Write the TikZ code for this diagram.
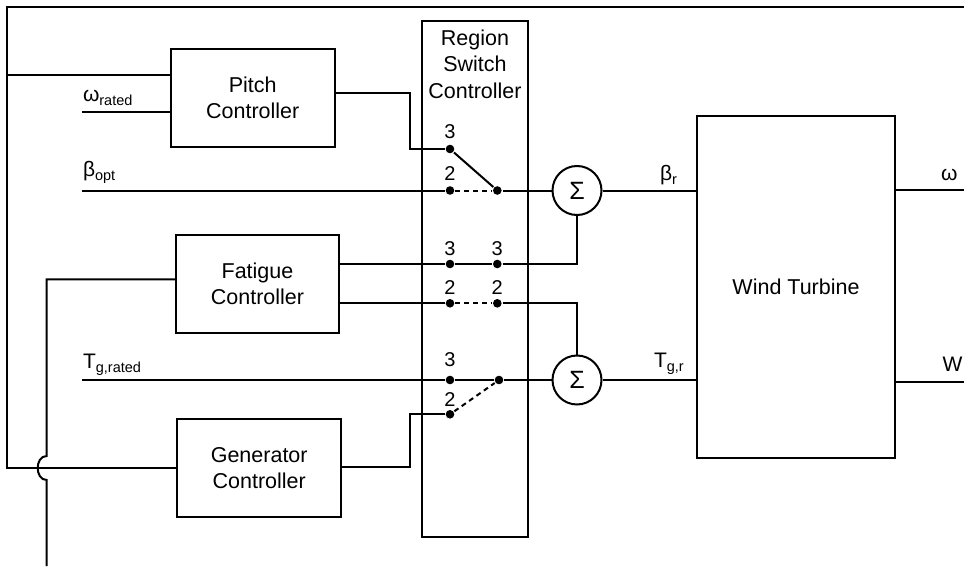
\documentclass[tikz,border=0pt]{standalone}
\usepackage{fontspec}
\setmainfont{Liberation Sans}
\newcommand{\lowsub}[1]{\raisebox{-4pt}{\fontsize{14.5}{15}\selectfont #1}}
\begin{document}
\begin{tikzpicture}[x=1pt,y=-1pt,line width=2pt,
  blk/.style={draw,line width=2pt,inner sep=0pt,outer sep=0pt,align=center,font=\fontsize{21.5}{26}\selectfont},
  dot/.style={circle,fill,inner sep=0pt,minimum size=8.6pt},
  sumc/.style={circle,draw,line width=2pt,inner sep=0pt,minimum size=49pt,font=\fontsize{25}{25}\selectfont},
  lbl/.style={anchor=base west,inner sep=0pt,font=\fontsize{21}{21}\selectfont},
  num/.style={anchor=base,inner sep=0pt,font=\fontsize{20}{20}\selectfont},
  wire/.style={draw,line width=2pt},
  dsh/.style={wire,dash pattern=on 5pt off 4pt}]
\useasboundingbox (0,0) rectangle (964,567);

% blocks
\node[blk,minimum width=164pt,minimum height=97.4pt] (pitch) at (252.7,98) {Pitch\\Controller};
\node[blk,minimum width=163.6pt,minimum height=97.7pt] (fat) at (257.5,283.8) {Fatigue\\Controller};
\node[blk,minimum width=164.3pt,minimum height=97.7pt] (gen) at (259.2,468.2) {Generator\\Controller};
\node[blk,minimum width=106.6pt,minimum height=515.4pt] (rsc) at (475,279) {};
\node[align=center,inner sep=0pt,font=\fontsize{21.5}{26.5}\selectfont] (rsct) at (475,64) {Region\\Switch\\Controller};
\node[blk,minimum width=197.4pt,minimum height=342.3pt] (wt) at (796,287.2) {Wind Turbine};

% summing junctions
\node[sumc] (sig1) at (577,190.5) {Σ};
\node[sumc] (sig2) at (577,380) {Σ};

% switch dots
\node[dot] (s13) at (450,149) {};
\node[dot] (s12) at (450,190.5) {};
\node[dot] (s1c) at (497.3,190.5) {};
\node[dot] (f3a) at (450,264) {};
\node[dot] (f3b) at (497.3,264) {};
\node[dot] (f2a) at (450,303.3) {};
\node[dot] (f2b) at (497.3,303.3) {};
\node[dot] (t3) at (450,380) {};
\node[dot] (tc) at (499,380) {};
\node[dot] (t2) at (450,414.3) {};

% switch numbers
\node[num] (n13) at (450,139) {3};
\node[num] (n12) at (450,180.5) {2};
\node[num] (nf3a) at (450,255) {3};
\node[num] (nf3b) at (497.3,255) {3};
\node[num] (nf2a) at (450,294) {2};
\node[num] (nf2b) at (497.3,294) {2};
\node[num] (nt3) at (450,366) {3};
\node[num] (nt2) at (450,406) {2};

% coordinates
\coordinate (ctr) at (964,7);
\coordinate (ctl) at (7,7);
\coordinate (cbl) at (7,467.7);
\coordinate (pin1) at (7,74.7);
\coordinate (wr) at (82,112);
\coordinate (pb) at (409.7,93.3);
\coordinate (bo) at (82,190.5);
\coordinate (tg) at (82,380);
\coordinate (gb) at (409.7,466.7);
\coordinate (fc) at (46.7,279.3);
\coordinate (fj1) at (46.7,456);
\coordinate (fj2) at (46.7,480);
\coordinate (fk1) at (34.7,456);
\coordinate (fk2) at (34.7,480);
\coordinate (fend) at (46.7,566);
\coordinate (om) at (964,190);
\coordinate (wo) at (964,382);

% feedback loop
\path[wire] (ctr) -- (ctl) -- (cbl) -- (cbl -| gen.west);
\path[wire] (pin1) -- (pin1 -| pitch.west);
\path[wire] (wr) -- (wr -| pitch.west);
\path[wire] (fc -| fat.west) -- (fc) -- (fj1) .. controls (fk1) and (fk2) .. (fj2) -- (fend);

% pitch path
\path[wire] (pb -| pitch.east) -- (pb) |- (s13);
\path[wire] (bo) -- (s12);
\path[wire] (s13) -- (s1c);
\path[dsh] (s12) -- (s1c);
\path[wire] (s1c) -- (sig1.west);

% fatigue paths
\path[wire] (f3a -| fat.east) -- (f3a);
\path[wire] (f3a) -- (f3b);
\path[wire] (f3b) -| (sig1.south);
\path[wire] (f2a -| fat.east) -- (f2a);
\path[dsh] (f2a) -- (f2b);
\path[wire] (f2b) -| (sig2.north);

% torque path
\path[wire] (tg) -- (t3) -- (tc) -- (sig2.west);
\path[dsh] (t2) -- (tc);
\path[wire] (gb -| gen.east) -- (gb) |- (t2);

% to turbine
\path[wire] (sig1.east) -- (sig1.east -| wt.west);
\path[wire] (sig2.east) -- (sig2.east -| wt.west);
\path[wire] (om -| wt.east) -- (om);
\path[wire] (wo -| wt.east) -- (wo);

% labels
\node[lbl] (lwr) at (82,101.7) {ω\lowsub{rated}};
\node[lbl] (lbo) at (82,177) {β\lowsub{opt}};
\node[lbl] (ltg) at (82,368.3) {T\lowsub{g,rated}};
\node[lbl] (lbr) at (659,181) {β\lowsub{r}};
\node[lbl] (ltr) at (653,367) {T\lowsub{g,r}};
\node[lbl] (lom) at (940,181) {ω};
\node[lbl] (lw) at (941.7,371.7) {W};
\end{tikzpicture}
\end{document}
